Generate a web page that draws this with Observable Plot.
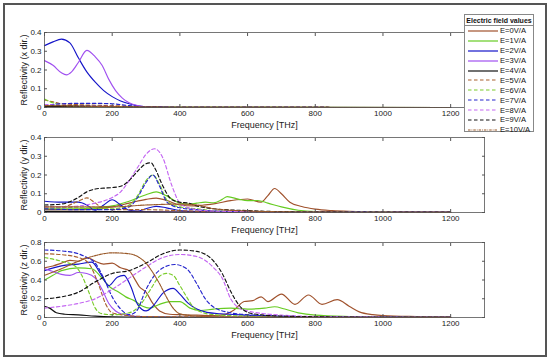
<!DOCTYPE html>
<html><head><meta charset="utf-8">
<script src="https://cdn.jsdelivr.net/npm/d3@7"></script>
<script src="https://cdn.jsdelivr.net/npm/@observablehq/plot@0.6"></script>
<style>
body{margin:0;background:#fff;}
#wrap{position:relative;width:550px;height:361px;font-family:"Liberation Sans",Arial,sans-serif;overflow:hidden;}
#frame{position:absolute;left:3px;top:3px;width:544px;height:354px;border:2px solid #555;box-sizing:border-box;}
.panel{position:absolute;left:0;overflow:visible;}
#legend{position:absolute;left:464px;top:14px;width:70px;height:118px;border:1px solid #888;background:#fff;box-sizing:border-box;font-size:7.6px;color:#111;}
#legend .ttl{font-weight:bold;font-size:7px;text-align:center;height:9px;line-height:9px;border-bottom:1px solid #888;padding-top:1px;}
#legend .row{display:flex;align-items:center;height:9.9px;}
#legend svg{width:30px;height:6px;margin-left:3px;margin-right:2px;}
</style></head>
<body><div id="wrap"><div id="frame"></div></div>
<script>
// ---------- labels & styles ----------
const seriesLabels = ["E=0V/A","E=1V/A","E=2V/A","E=3V/A","E=4V/A","E=5V/A","E=6V/A","E=7V/A","E=8V/A","E=9V/A","E=10V/A"];
const seriesColors = ["#a0522d","#66cc22","#1414c8","#a050f0","#111111","#a8602e","#7acc2a","#2424cc","#c466f2","#111111","#9a5a2a"];
const seriesDash = [null,null,null,null,null,"3.5,2.5","3.5,2.5","3.5,2.5","3.5,2.5","3.5,2.5","2.5,1,0.8,1"];
const xTicks = [0,200,400,600,800,1000,1200];
const yTicksXY = [0,0.1,0.2,0.3,0.4];
const yTicksZ = [0,0.2,0.4,0.6,0.8];
const yLabels = ["Reflectivity (x dir.)","Reflectivity (y dir.)","Reflectivity (z dir.)"];
const xLabel = "Frequency [THz]";

// ---------- x direction ----------
const x_E0 = [[0,0.005],[200,0.004],[400,0.001],[1200,0]];
const x_E1 = [[0,0.008],[100,0.006],[200,0.004],[400,0.001],[1200,0]];
const x_E2 = [[0,0.33],[25,0.35],[50,0.365],[75,0.345],[100,0.265],[125,0.19],[150,0.135],[175,0.09],[200,0.058],[225,0.035],[250,0.02],[275,0.009],[300,0.004],[350,0.001],[400,0],[1200,0]];
const x_E3 = [[0,0.25],[25,0.225],[50,0.185],[65,0.174],[80,0.19],[100,0.24],[125,0.305],[150,0.27],[170,0.225],[190,0.15],[210,0.09],[230,0.05],[250,0.025],[275,0.01],[300,0.004],[350,0.001],[400,0],[1200,0]];
const x_E4 = [[0,0.006],[200,0.004],[400,0.001],[1200,0]];
const x_E5 = [[0,0.04],[25,0.03],[50,0.02],[100,0.015],[200,0.01],[300,0.003],[400,0.001],[1200,0]];
const x_E6 = [[0,0.045],[25,0.025],[50,0.012],[100,0.008],[200,0.005],[400,0.001],[1200,0]];
const x_E7 = [[0,0.01],[50,0.02],[100,0.022],[150,0.022],[200,0.02],[250,0.01],[300,0.003],[400,0.001],[1200,0]];
const x_E8 = [[0,0.015],[50,0.012],[100,0.01],[200,0.006],[400,0.001],[1200,0]];
const x_E9 = [[0,0.01],[100,0.008],[200,0.005],[400,0.001],[1200,0]];
const x_E10 = [[0,0.01],[100,0.008],[200,0.005],[400,0.001],[1200,0]];

// ---------- y direction ----------
const y_E0 = [[0,0.015],[100,0.015],[200,0.03],[250,0.05],[300,0.07],[330,0.077],[360,0.065],[400,0.04],[440,0.035],[470,0.04],[500,0.046],[550,0.063],[600,0.072],[640,0.055],[660,0.09],[680,0.128],[700,0.1],[725,0.055],[760,0.032],[800,0.018],[850,0.01],[900,0.006],[1000,0.003],[1200,0.002]];
const y_E1 = [[0,0.02],[100,0.02],[150,0.025],[200,0.035],[250,0.06],[300,0.095],[330,0.11],[360,0.09],[400,0.05],[425,0.045],[450,0.05],[475,0.055],[500,0.052],[525,0.07],[540,0.085],[575,0.07],[600,0.063],[630,0.064],[660,0.05],[700,0.03],[750,0.012],[800,0.005],[900,0.002],[1200,0.001]];
const y_E2 = [[0,0.06],[50,0.055],[100,0.055],[125,0.04],[150,0.012],[175,0.04],[200,0.068],[225,0.04],[250,0.012],[275,0.008],[300,0.02],[330,0.033],[360,0.025],[400,0.01],[450,0.005],[500,0.003],[1200,0.001]];
const y_E3 = [[0,0.004],[200,0.004],[400,0.002],[1200,0.001]];
const y_E4 = [[0,0.006],[200,0.005],[400,0.002],[1200,0.001]];
const y_E5 = [[0,0.03],[50,0.03],[100,0.06],[125,0.078],[150,0.05],[175,0.02],[200,0.015],[300,0.015],[400,0.01],[500,0.005],[700,0.002],[1200,0.001]];
const y_E6 = [[0,0.03],[100,0.025],[200,0.02],[250,0.04],[275,0.09],[300,0.17],[320,0.2],[340,0.15],[360,0.07],[380,0.04],[400,0.03],[450,0.02],[500,0.01],[600,0.005],[1200,0.001]];
const y_E7 = [[0,0.02],[100,0.015],[200,0.015],[250,0.03],[275,0.08],[300,0.16],[320,0.2],[340,0.14],[360,0.06],[380,0.035],[400,0.025],[450,0.015],[500,0.008],[700,0.003],[1200,0.001]];
const y_E8 = [[0,0.03],[50,0.03],[100,0.035],[150,0.05],[200,0.08],[225,0.11],[250,0.17],[275,0.24],[300,0.31],[325,0.34],[350,0.29],[375,0.15],[400,0.05],[425,0.025],[450,0.015],[500,0.008],[600,0.004],[800,0.001],[1200,0.001]];
const y_E9 = [[0,0.04],[50,0.045],[100,0.08],[125,0.11],[150,0.125],[175,0.13],[200,0.133],[225,0.14],[250,0.17],[275,0.22],[300,0.26],[315,0.265],[325,0.24],[350,0.14],[375,0.07],[400,0.055],[425,0.05],[450,0.035],[500,0.02],[600,0.01],[800,0.002],[1200,0.001]];
const y_E10 = [[0,0.03],[100,0.03],[200,0.03],[300,0.04],[400,0.045],[450,0.04],[500,0.02],[600,0.008],[800,0.002],[1200,0.001]];

// ---------- z direction ----------
const z_E0 = [[0,0.53],[25,0.55],[50,0.58],[75,0.61],[100,0.6],[125,0.64],[150,0.6],[175,0.57],[200,0.58],[225,0.53],[250,0.5],[265,0.42],[280,0.33],[300,0.27],[320,0.15],[340,0.07],[370,0.035],[400,0.03],[450,0.025],[500,0.02],[530,0.03],[560,0.08],[590,0.17],[615,0.18],[640,0.22],[660,0.17],[700,0.25],[740,0.14],[780,0.24],[820,0.14],[865,0.19],[900,0.12],[930,0.06],[970,0.03],[1000,0.02],[1100,0.01],[1200,0.005]];
const z_E1 = [[0,0.4],[25,0.45],[50,0.5],[100,0.53],[140,0.52],[170,0.42],[195,0.32],[215,0.28],[240,0.22],[265,0.18],[290,0.12],[310,0.1],[340,0.14],[370,0.17],[400,0.17],[430,0.1],[460,0.075],[500,0.09],[550,0.1],[600,0.09],[650,0.1],[680,0.115],[710,0.09],[750,0.05],[800,0.025],[900,0.01],[1000,0.005],[1200,0.002]];
const z_E2 = [[0,0.5],[50,0.55],[100,0.57],[140,0.59],[165,0.47],[190,0.34],[215,0.43],[235,0.45],[255,0.33],[275,0.14],[300,0.07],[320,0.12],[350,0.26],[380,0.31],[400,0.25],[425,0.15],[450,0.09],[480,0.055],[520,0.04],[600,0.025],[700,0.01],[800,0.005],[1200,0.002]];
const z_E3 = [[0,0.52],[25,0.49],[50,0.46],[75,0.45],[100,0.48],[125,0.47],[150,0.42],[170,0.3],[190,0.15],[210,0.07],[230,0.035],[260,0.015],[300,0.008],[400,0.003],[1200,0.001]];
const z_E4 = [[0,0.12],[15,0.1],[35,0.05],[60,0.035],[100,0.028],[150,0.015],[200,0.008],[300,0.004],[500,0.002],[1200,0.001]];
const z_E5 = [[0,0.68],[50,0.67],[100,0.64],[130,0.58],[160,0.35],[180,0.15],[200,0.05],[250,0.02],[300,0.01],[500,0.005],[1200,0.001]];
const z_E6 = [[0,0.64],[50,0.6],[90,0.55],[110,0.45],[130,0.28],[150,0.1],[170,0.04],[200,0.03],[250,0.05],[280,0.12],[310,0.28],[340,0.44],[360,0.47],[380,0.45],[400,0.34],[420,0.22],[440,0.11],[470,0.05],[500,0.03],[600,0.015],[800,0.005],[1200,0.001]];
const z_E7 = [[0,0.72],[50,0.71],[100,0.68],[125,0.64],[150,0.58],[175,0.42],[200,0.22],[225,0.09],[250,0.03],[270,0.06],[300,0.3],[325,0.45],[350,0.53],[385,0.565],[420,0.52],[450,0.36],[475,0.2],[500,0.11],[550,0.05],[600,0.03],[700,0.015],[800,0.008],[1200,0.002]];
const z_E8 = [[0,0.1],[50,0.12],[100,0.15],[150,0.2],[200,0.3],[250,0.42],[300,0.54],[350,0.64],[400,0.672],[450,0.65],[500,0.53],[525,0.42],[550,0.2],[575,0.1],[600,0.07],[650,0.04],[700,0.025],[800,0.01],[1000,0.003],[1200,0.001]];
const z_E9 = [[0,0.2],[50,0.22],[100,0.27],[150,0.38],[200,0.47],[250,0.5],[300,0.58],[350,0.68],[400,0.72],[450,0.705],[500,0.6],[525,0.47],[550,0.28],[575,0.13],[600,0.055],[650,0.025],[700,0.015],[800,0.008],[1000,0.002],[1200,0.001]];
const z_E10 = [[0,0.45],[50,0.52],[100,0.6],[150,0.66],[200,0.69],[250,0.68],[280,0.64],[300,0.58],[320,0.48],[340,0.36],[360,0.22],[380,0.1],[400,0.04],[450,0.015],[500,0.008],[700,0.003],[1200,0.001]];

const xSeries = [x_E0,x_E1,x_E2,x_E3,x_E4,x_E5,x_E6,x_E7,x_E8,x_E9,x_E10];
const ySeries = [y_E0,y_E1,y_E2,y_E3,y_E4,y_E5,y_E6,y_E7,y_E8,y_E9,y_E10];
const zSeries = [z_E0,z_E1,z_E2,z_E3,z_E4,z_E5,z_E6,z_E7,z_E8,z_E9,z_E10];

const fmt = d => d === 0 ? "0" : String(d);
const font = '"Liberation Sans", Arial, sans-serif';

function makePanel(series, yMax, yTicks, yLabel, top, mt, mb) {
  const p = Plot.plot({
    width: 550, height: mt + 75 + mb,
    marginTop: mt, marginBottom: mb, marginLeft: 44, marginRight: 66,
    x: {domain: [0, 1300]},
    y: {domain: [0, yMax]},
    style: {fontFamily: font, fontSize: "8px", background: "transparent", color: "#222", overflow: "visible"},
    marks: [
      ...series.map((s, i) => Plot.line(s, {x: d => d[0], y: d => d[1], stroke: seriesColors[i], strokeDasharray: seriesDash[i], strokeWidth: 1.15, curve: "monotone-x"})),
      Plot.frame({stroke: "#555", strokeWidth: 0.8}),
      Plot.axisX({anchor: "bottom", ticks: xTicks, tickSize: -3, tickPadding: 6, tickFormat: fmt, label: null, stroke: "#555"}),
      Plot.axisX({anchor: "top", ticks: xTicks, tickSize: -3, tickFormat: () => "", label: null, stroke: "#555"}),
      Plot.axisY({anchor: "left", ticks: yTicks, tickSize: -3, tickPadding: 6, tickFormat: fmt, label: null, stroke: "#555"}),
      Plot.axisY({anchor: "right", ticks: yTicks, tickSize: -3, tickFormat: () => "", label: null, stroke: "#555"}),
      Plot.text([xLabel], {frameAnchor: "bottom", dy: 20, fontSize: 9, fill: "#222", textAnchor: "middle"}),
      Plot.text([yLabel], {frameAnchor: "left", dx: -20, rotate: -90, fontSize: 9, fill: "#222", textAnchor: "middle"})
    ]
  });
  p.classList.add("panel");
  p.style.top = top + "px";
  document.getElementById("wrap").appendChild(p);
}

makePanel(xSeries, 0.4, yTicksXY, yLabels[0], 0, 32, 27);
makePanel(ySeries, 0.4, yTicksXY, yLabels[1], 134, 3, 26);
makePanel(zSeries, 0.8, yTicksZ, yLabels[2], 238, 4, 44);

// legend
const lg = document.createElement("div");
lg.id = "legend";
let html = '<div class="ttl">Electric field values</div>';
seriesLabels.forEach((lab, i) => {
  html += `<div class="row"><svg viewBox="0 0 30 6"><line x1="0" y1="3" x2="30" y2="3" stroke="${seriesColors[i]}" stroke-width="1.2" ${seriesDash[i] ? `stroke-dasharray="${seriesDash[i]}"` : ""}/></svg><span>${lab}</span></div>`;
});
lg.innerHTML = html;
document.getElementById("wrap").appendChild(lg);
</script>
</body></html>
